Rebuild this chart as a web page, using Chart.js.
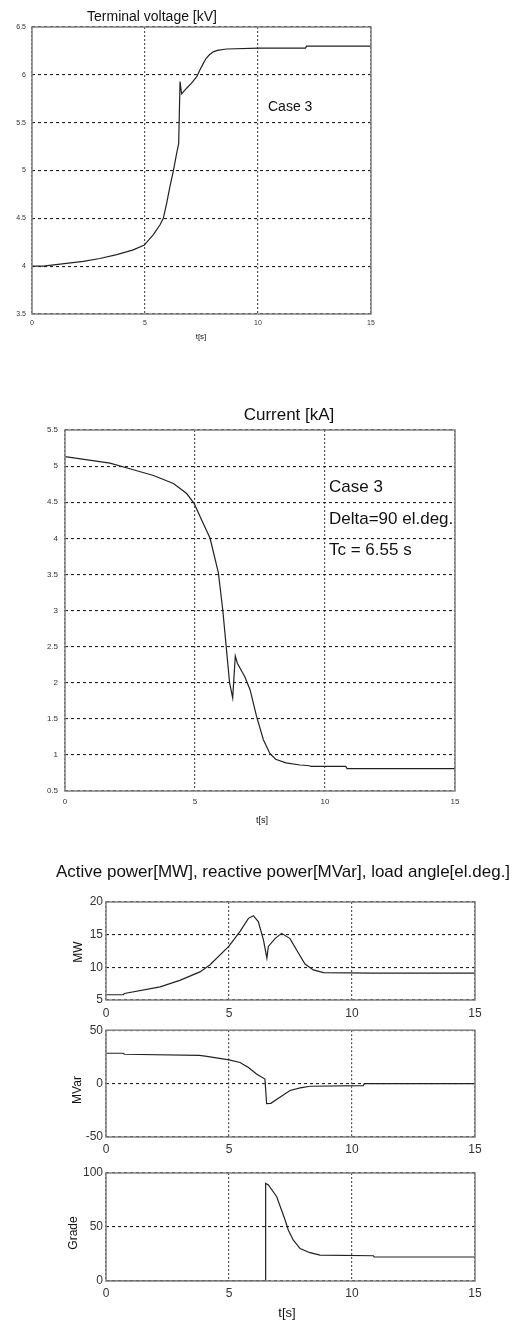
<!DOCTYPE html>
<html>
<head>
<meta charset="utf-8">
<script src="https://cdn.jsdelivr.net/npm/chart.js@4.4.1/dist/chart.umd.min.js"></script>
<style>
  body { margin: 0; background: #fff; }
  #wrap { position: relative; width: 530px; height: 1323px; }
  #wrap canvas { position: absolute; left: 0; }
</style>
</head>
<body>
<div id="wrap">
  <canvas id="voltChart" width="530" height="350" style="top:0px"></canvas>
  <canvas id="curChart" width="530" height="435" style="top:395px"></canvas>
  <canvas id="mwChart" width="530" height="170" style="top:850px"></canvas>
  <canvas id="mvarChart" width="530" height="140" style="top:1020px"></canvas>
  <canvas id="gradeChart" width="530" height="163" style="top:1160px"></canvas>
</div>
<script>
// time axis, seconds
const timeMin = 0, timeMax = 15, timeStep = 5;

// terminal voltage [kV]
const voltTime  = [0, 0.5, 2.27, 3.0, 3.75, 4.48, 4.97, 5.37, 5.66, 5.81, 5.96, 6.1, 6.25, 6.4, 6.49, 6.52, 6.55, 6.62, 6.84, 7.05, 7.29, 7.45, 7.58, 7.7, 7.85, 8.02, 8.2, 8.61, 10.04, 12.1, 12.15, 15];
const voltValue = [4.0, 4.0, 4.05, 4.08, 4.12, 4.17, 4.22, 4.33, 4.43, 4.5, 4.66, 4.83, 4.99, 5.18, 5.28, 5.6, 5.93, 5.8, 5.86, 5.91, 5.98, 6.06, 6.12, 6.17, 6.21, 6.24, 6.255, 6.27, 6.28, 6.28, 6.3, 6.3];

// current [kA]
const curTime  = [0, 1.73, 2.63, 3.4, 4.17, 4.68, 4.97, 5.26, 5.58, 5.9, 6.07, 6.2, 6.33, 6.45, 6.55, 6.63, 6.92, 7.12, 7.37, 7.63, 7.88, 8.1, 8.5, 9.04, 9.4, 9.45, 10.8, 10.85, 15];
const curValue = [5.13, 5.04, 4.95, 4.87, 4.76, 4.62, 4.48, 4.25, 4.0, 3.52, 3.0, 2.5, 2.0, 1.79, 2.37, 2.27, 2.08, 1.9, 1.53, 1.21, 1.02, 0.94, 0.89, 0.86, 0.85, 0.84, 0.84, 0.81, 0.81];

// active power [MW]
const mwTime  = [0, 0.7, 0.75, 2.2, 3.0, 3.82, 4.23, 4.99, 5.45, 5.79, 5.99, 6.19, 6.4, 6.54, 6.6, 6.87, 7.14, 7.48, 7.82, 8.09, 8.43, 8.84, 10.8, 15];
const mwValue = [5.8, 5.8, 6.0, 7.0, 8.0, 9.3, 10.4, 13.2, 15.5, 17.5, 17.9, 17.0, 14.2, 11.4, 13.2, 14.4, 15.2, 14.4, 12.2, 10.5, 9.6, 9.2, 9.1, 9.1];

// reactive power [MVar]
const mvarTime  = [0, 0.7, 0.75, 3.8, 4.1, 5.0, 5.45, 5.79, 6.12, 6.46, 6.53, 6.7, 7.07, 7.48, 7.89, 8.3, 10.46, 10.5, 15];
const mvarValue = [28.4, 28.4, 27.5, 26.5, 25.5, 22.2, 19.8, 15.1, 9.0, 4.3, -18.8, -18.5, -12.7, -6.5, -4.0, -2.5, -1.9, 0, 0];

// load angle [el.deg.]
const angleTime  = [0, 6.49, 6.49, 6.6, 6.94, 7.28, 7.41, 7.61, 7.89, 8.29, 8.7, 10.87, 10.9, 15];
const angleValue = [0, 0, 90.5, 88.9, 78, 56.5, 47.2, 38, 30, 26.2, 24, 23.4, 22.2, 22.2];

function points(xs, ys) {
  return xs.map((x, i) => ({ x: x, y: ys[i] }));
}

// draws the matlab style box and the free text of each plot
const boxPlugin = {
  id: 'box',
  afterDraw(chart, args, opts) {
    const ctx = chart.ctx;
    const a = chart.chartArea;
    ctx.save();
    ctx.strokeStyle = '#808080';
    ctx.lineWidth = 1.5;
    ctx.strokeRect(a.left, a.top, a.right - a.left, a.bottom - a.top);
    ctx.fillStyle = '#111';
    ctx.textBaseline = 'middle';
    (opts.texts || []).forEach(t => {
      ctx.save();
      ctx.font = t.size + 'px "Liberation Sans", Arial, sans-serif';
      ctx.textAlign = t.align || 'center';
      ctx.translate(t.x, t.y - opts.offset);
      if (t.rotate) ctx.rotate(-Math.PI / 2);
      ctx.fillText(t.text, 0, 0);
      ctx.restore();
    });
    ctx.restore();
  }
};

const X_BOX = 20; // fixed height given to the x scale box

function plot(id, cfg) {
  const cv = document.getElementById(id);
  const top = parseInt(cv.style.top);
  const a = cfg.area;
  const font = { size: cfg.tickSize, family: 'Liberation Sans' };
  return new Chart(cv, {
    type: 'line',
    data: {
      datasets: [{
        data: cfg.data,
        borderColor: '#222',
        borderWidth: 1.2,
        pointRadius: 0,
        tension: 0,
        fill: false
      }]
    },
    plugins: [boxPlugin],
    options: {
      responsive: false,
      animation: false,
      devicePixelRatio: 1,
      layout: {
        padding: { left: 0, top: a.top - top, right: 530 - a.right, bottom: top + cv.height - a.bottom - X_BOX }
      },
      plugins: {
        legend: { display: false },
        tooltip: { enabled: false },
        box: { texts: cfg.texts, offset: top }
      },
      scales: {
        x: {
          type: 'linear',
          min: timeMin, max: timeMax,
          afterFit: s => { s.height = X_BOX; },
          grid: { color: '#555', lineWidth: 1.2, drawTicks: false },
          border: { display: false, dash: [2, 2] },
          ticks: { stepSize: timeStep, font: font, color: '#333', padding: cfg.xPad, maxRotation: 0, autoSkip: false, callback: v => '' + v }
        },
        y: {
          min: cfg.yMin, max: cfg.yMax,
          afterFit: s => { s.width = a.left; },
          grid: { color: '#222', lineWidth: 1.1, drawTicks: false },
          border: { display: false, dash: [3, 3] },
          ticks: { stepSize: cfg.yStep, font: font, color: '#333', padding: cfg.yPad, autoSkip: false, callback: v => '' + v }
        }
      }
    }
  });
}

plot('voltChart', {
  area: { left: 32, top: 27, right: 371, bottom: 314 },
  data: points(voltTime, voltValue),
  yMin: 3.5, yMax: 6.5, yStep: 0.5,
  tickSize: 7, xPad: 5, yPad: 6,
  texts: [
    { text: 'Terminal voltage [kV]', size: 14, x: 152, y: 17 },
    { text: 'Case 3', size: 14, x: 268, y: 107, align: 'left' },
    { text: 't[s]', size: 8, x: 201, y: 337 }
  ]
});

plot('curChart', {
  area: { left: 65, top: 430, right: 455, bottom: 791 },
  data: points(curTime, curValue),
  yMin: 0.5, yMax: 5.5, yStep: 0.5,
  tickSize: 8, xPad: 6, yPad: 7,
  texts: [
    { text: 'Current [kA]', size: 17, x: 289, y: 415 },
    { text: 'Case 3', size: 17, x: 329, y: 487, align: 'left' },
    { text: 'Delta=90 el.deg.', size: 17, x: 329, y: 519, align: 'left' },
    { text: 'Tc = 6.55 s', size: 17, x: 329, y: 550, align: 'left' },
    { text: 't[s]', size: 9, x: 262, y: 821 }
  ]
});

plot('mwChart', {
  area: { left: 106, top: 902, right: 475, bottom: 1000 },
  data: points(mwTime, mwValue),
  yMin: 5, yMax: 20, yStep: 5,
  tickSize: 12, xPad: 6, yPad: 3,
  texts: [
    { text: 'Active power[MW], reactive power[MVar], load angle[el.deg.]', size: 17, x: 283, y: 872 },
    { text: 'MW', size: 12, x: 79, y: 952, rotate: true }
  ]
});

plot('mvarChart', {
  area: { left: 106, top: 1029, right: 475, bottom: 1137 },
  data: points(mvarTime, mvarValue),
  yMin: -50, yMax: 50, yStep: 50,
  tickSize: 12, xPad: 5, yPad: 3,
  texts: [
    { text: 'MVar', size: 12, x: 78, y: 1090, rotate: true }
  ]
});

plot('gradeChart', {
  area: { left: 106, top: 1173, right: 475, bottom: 1281 },
  data: points(angleTime, angleValue),
  yMin: 0, yMax: 100, yStep: 50,
  tickSize: 12, xPad: 5, yPad: 3,
  texts: [
    { text: 'Grade', size: 12, x: 74, y: 1233, rotate: true },
    { text: 't[s]', size: 13, x: 287, y: 1313 }
  ]
});
</script>
</body>
</html>
